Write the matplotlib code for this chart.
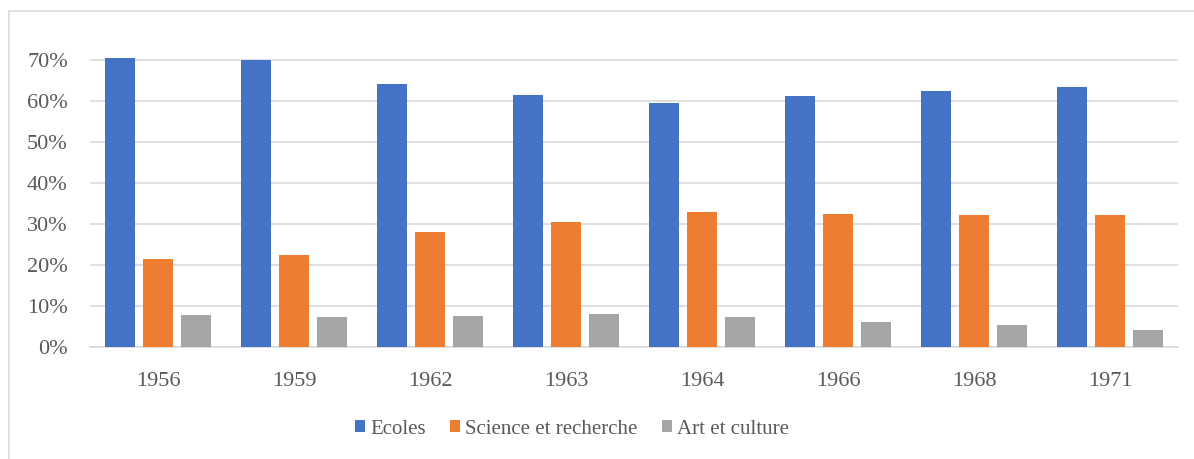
import matplotlib
matplotlib.use("Agg")
import matplotlib.pyplot as plt
import numpy as np
from matplotlib.patches import Rectangle
from matplotlib.ticker import PercentFormatter

years = ["1956", "1959", "1962", "1963", "1964", "1966", "1968", "1971"]
ecoles = [70.4, 70.1, 64.2, 61.4, 59.6, 61.2, 62.4, 63.4]
science = [21.5, 22.4, 28.0, 30.4, 32.9, 32.4, 32.2, 32.3]
art = [7.8, 7.4, 7.5, 8.0, 7.3, 6.1, 5.4, 4.1]
series_names = ["Ecoles", "Science et recherche", "Art et culture"]
colors = ["#4472C4", "#ED7D31", "#A5A5A5"]

plt.rcParams['font.family'] = ['Liberation Serif', 'DejaVu Serif']

fig = plt.figure(figsize=(11.94, 4.59), dpi=100)
W, H = 1194, 459
ymax = 0.72
px_per_unit = (347 - 60) / 0.70
top_px = 347 - ymax * px_per_unit
ax = fig.add_axes([90 / W, 1 - 347 / H, (1178 - 90) / W, (347 - top_px) / H])

x = np.arange(len(years))
bw = 30 / 136
off = 38 / 136
for i, (vals, name, c) in enumerate(zip([ecoles, science, art], series_names, colors)):
    ax.bar(x + (i - 1) * off, [v / 100 for v in vals], width=bw, color=c, label=name, zorder=3)

ax.set_xlim(-0.5, len(years) - 0.5)
ax.set_ylim(0, ymax)
ax.set_yticks(np.arange(0, 0.71, 0.1))
ax.yaxis.set_major_formatter(PercentFormatter(1.0, decimals=0))
ax.set_xticks(x)
ax.set_xticklabels(years)
ax.grid(axis='y', color='#d9d9d9', linewidth=1.2, zorder=0)
for s in ['top', 'right', 'left']:
    ax.spines[s].set_visible(False)
ax.spines['bottom'].set_color('#d9d9d9')
ax.spines['bottom'].set_linewidth(1.2)
ax.tick_params(axis='both', length=0, labelsize=16, colors='#595959')
ax.tick_params(axis='y', pad=16)
ax.tick_params(axis='x', pad=18)

leg = fig.legend(loc='center', bbox_to_anchor=(572 / W, 1 - 429 / H), ncol=3, frameon=False,
                 fontsize=15, handlelength=0.5, handleheight=0.5, handletextpad=0.25,
                 columnspacing=1.15, borderpad=0)
for t in leg.get_texts():
    t.set_color('#595959')

# chart border
fig.patches.append(Rectangle((8.5 / W, -0.1), 1.2, 1 - 10.5 / H + 0.1, transform=fig.transFigure,
                             fill=False, edgecolor='#d9d9d9', linewidth=1.2))

fig.savefig("out.png", dpi=100)
